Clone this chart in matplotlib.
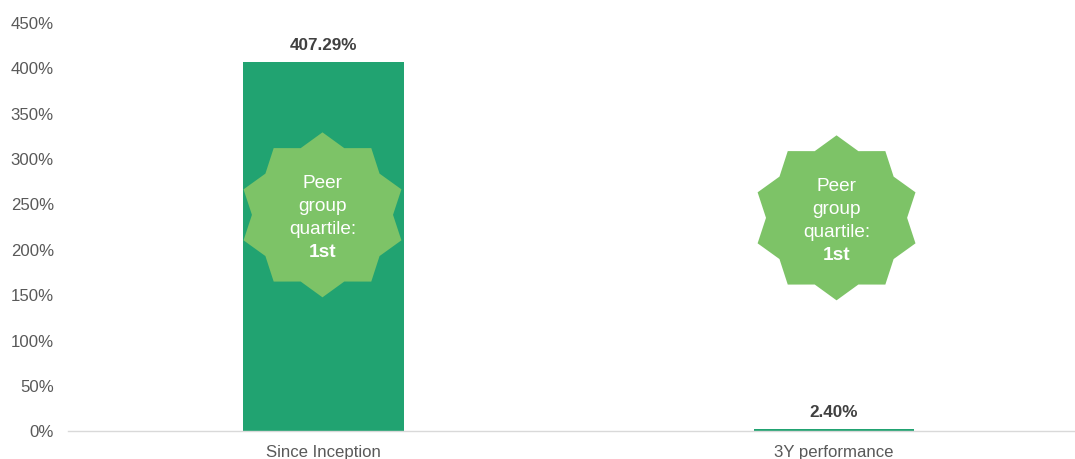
import numpy as np
import matplotlib
matplotlib.use("Agg")
import matplotlib.pyplot as plt
from matplotlib.patches import Polygon

plt.rcParams["font.family"] = ["Liberation Sans", "DejaVu Sans"]

categories = ["Since Inception", "3Y performance"]
performance = [407.29, 2.40]
value_labels = ["407.29%", "2.40%"]
y_ticks = list(range(0, 451, 50))
quartile = ["1st", "1st"]
# badge centres as (category position, percent)
badge_x = [-0.002, 1.005]
badge_y = [238.5, 235.2]

BAR_COLOR = "#21A371"
BADGE_COLOR = "#7DC367"
TICK_COLOR = "#595959"
LABEL_COLOR = "#404040"


def star_points(cx, cy, rx, ry, inner=0.85, points=10):
    """corners of a star, first tip pointing straight up"""
    angles = np.pi / 2 - np.arange(points * 2) * np.pi / points
    radius = np.where(np.arange(points * 2) % 2 == 0, 1.0, inner)
    return np.column_stack((cx + rx * radius * np.cos(angles), cy + ry * radius * np.sin(angles)))


fig = plt.figure(figsize=(10.75, 4.59), dpi=100)
# the x band runs a little past the right edge of the figure
ax = fig.add_axes([68.25 / 1075, 27.6 / 459, 1021 / 1075, 408.6 / 459])
ax.set_xlim(-0.5, 1.5)
ax.set_ylim(0, 450)

ax.bar(range(len(categories)), performance, width=0.314, color=BAR_COLOR, zorder=2)

for i, label in enumerate(value_labels):
    ax.annotate(label, (i, performance[i]), xytext=(0, 6.3), textcoords="offset points",
                ha="center", va="bottom", fontsize=12.3, fontweight="bold", color=LABEL_COLOR)

# data units per pixel, so the badges can be sized in pixels
px_x = 2 / 1021
px_y = 450 / 408.6
for cx, cy, rank in zip(badge_x, badge_y, quartile):
    ax.add_patch(Polygon(star_points(cx, cy, 83 * px_x, 82.5 * px_y), closed=True,
                         facecolor=BADGE_COLOR, edgecolor="none", zorder=3))
    lines = ["Peer", "group", "quartile:", rank]
    for n, line in enumerate(lines):
        ax.text(cx, cy + (1.5 - n) * 23 * px_y - 3.2 * px_y, line, ha="center", va="center", color="white",
                fontsize=13.7, fontweight="bold" if n == 3 else "normal", zorder=4)

ax.set_xticks(range(len(categories)))
ax.set_xticklabels(categories)
ax.set_yticks(y_ticks)
ax.set_yticklabels([f"{t}%" for t in y_ticks])
ax.tick_params(axis="x", length=0, pad=9.6, labelsize=12.1, labelcolor=TICK_COLOR)
ax.tick_params(axis="y", length=0, pad=10.3, labelsize=12.1, labelcolor=TICK_COLOR)

for side in ["top", "right", "left"]:
    ax.spines[side].set_visible(False)
ax.spines["bottom"].set_color("#D9D9D9")
ax.spines["bottom"].set_linewidth(1.0)

fig.savefig("out.png", dpi=100)
